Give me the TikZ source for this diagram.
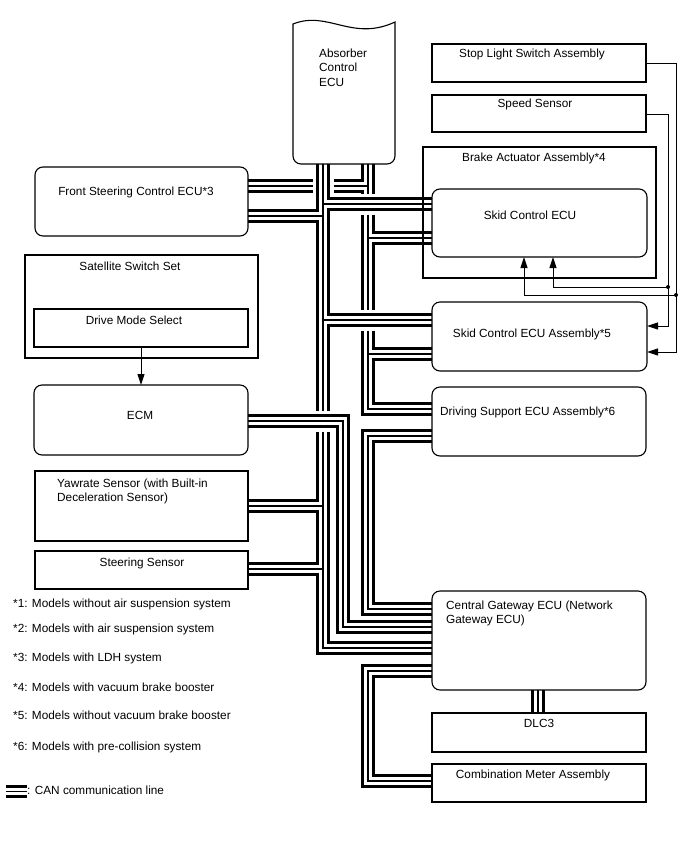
\documentclass[tikz,border=0pt]{standalone}
\usepackage{fontspec}
\setmainfont{Liberation Sans}
\usetikzlibrary{arrows.meta,backgrounds}
\newcommand\myfs{\fontsize{11.8}{14.5}\selectfont}
\newcommand\buspaths[1]{%
  % bus 1 (x=323)
  \draw[#1] (abs.south -| 323,0) -- (323,410.5);
  \draw[#1] (323,431.5) -- (323,648) -- (cgw.west |- 0,648);
  \draw[#1] (323,204) -- (skid.west |- 0,204);
  \draw[#1] (323,216) -- (fsc.east |- 0,216);
  \draw[#1] (323,320) -- (skida.west |- 0,320);
  \draw[#1] (323,506) -- (yaw.east |- 0,506);
  \draw[#1] (323,569) -- (steer.east |- 0,569);
  % bus A (x=368)
  \draw[#1] (abs.south -| 368,0) -- (368,193.5);
  \draw[#1] (368,214.5) -- (368,309.5);
  \draw[#1] (368,330.5) -- (368,409) -- (ds.west |- 0,409);
  \draw[#1] (368,186) -- (333.5,186);
  \draw[#1] (312.5,186) -- (fsc.east |- 0,186);
  \draw[#1] (368,238) -- (skid.west |- 0,238);
  \draw[#1] (368,354) -- (skida.west |- 0,354);
  % ECM bus
  \draw[#1] (ecm.east |- 0,421) -- (343,421) -- (343,627) -- (cgw.west |- 0,627);
  % driving support to gateway
  \draw[#1] (ds.west |- 0,436) -- (368,436) -- (368,609) -- (cgw.west |- 0,609);
  % gateway to combination meter
  \draw[#1] (cgw.west |- 0,671) -- (368,671) -- (368,781) -- (comb.west |- 0,781);
  % gateway to DLC3
  \draw[#1] (cgw.south -| 538,0) -- (dlc.north -| 538,0);
  % legend
  \draw[#1] (lg1) -- (lg2);
}
\begin{document}
\begin{tikzpicture}[x=1pt,y=-1pt,
  box/.style={draw,line width=1.1pt,anchor=north west,inner sep=0pt,outer sep=0pt},
  rbox/.style={box,rounded corners=8pt},
  lbl/.style={font=\myfs,inner sep=0pt,anchor=base},
  lbll/.style={font=\myfs,inner sep=0pt,anchor=north west,align=left},
  note/.style={font=\myfs,inner sep=0pt,anchor=base west},
  wire/.style={line width=1pt},
  tip/.style={-{Triangle[length=11pt,width=7pt]}},
  dotn/.style={circle,fill,inner sep=0pt,minimum size=4pt}
]
\useasboundingbox (0,0) rectangle (688,852);

% absorber control ECU (anchor node + outline)
\node[inner sep=0pt,outer sep=0pt,minimum width=102pt,minimum height=142pt,anchor=north west] (abs) at (293,22) {};
\draw[line width=1.1pt] (293,24) .. controls (328,10) and (352,42) .. (395,22)
  [rounded corners=8pt] -- (395,164) -- (293,164) -- (293,60) [sharp corners] -- cycle;
\node[lbll] (absT) at (319,48.4) {Absorber\\Control\\ECU};

% right column
\node[box,minimum width=214pt,minimum height=38pt] (sls) at (432,44) {};
\node[lbl] (slsT) at (532,57) {Stop Light Switch Assembly};
\node[box,minimum width=214pt,minimum height=37pt] (spd) at (432,95) {};
\node[lbl] (spdT) at (535,107) {Speed Sensor};
\node[box,minimum width=233pt,minimum height=131pt] (brk) at (423,147) {};
\node[lbl] (brkT) at (534,161) {Brake Actuator Assembly*4};
\node[rbox,minimum width=215pt,minimum height=68pt] (skid) at (432,189) {};
\node[lbl] (skidT) at (530,219.5) {Skid Control ECU};
\node[rbox,minimum width=215pt,minimum height=69pt] (skida) at (432,302) {};
\node[lbl] (skidaT) at (532,337) {Skid Control ECU Assembly*5};
\node[rbox,minimum width=214pt,minimum height=69pt] (ds) at (432,387) {};
\node[note] (dsT) at (440,415) {Driving Support ECU Assembly*6};
\node[rbox,minimum width=214pt,minimum height=99pt] (cgw) at (432,591) {};
\node[lbll] (cgwT) at (446,600.4) {Central Gateway ECU (Network\\Gateway ECU)};
\node[box,minimum width=214pt,minimum height=39pt] (dlc) at (432,713) {};
\node[lbl] (dlcT) at (539,727.5) {DLC3};
\node[box,minimum width=214pt,minimum height=38pt] (comb) at (432,764) {};
\node[lbl] (combT) at (533,778) {Combination Meter Assembly};

% left column
\node[rbox,minimum width=213pt,minimum height=69pt] (fsc) at (35,167) {};
\node[lbl] (fscT) at (136,195) {Front Steering Control ECU*3};
\node[box,minimum width=233pt,minimum height=103pt] (sss) at (25,255) {};
\node[lbl] (sssT) at (130,270) {Satellite Switch Set};
\node[box,minimum width=214pt,minimum height=38pt] (dms) at (34,309) {};
\node[lbl] (dmsT) at (134,324) {Drive Mode Select};
\node[rbox,minimum width=214pt,minimum height=70pt] (ecm) at (34,385) {};
\node[lbl] (ecmT) at (140,419) {ECM};
\node[box,minimum width=213pt,minimum height=70pt] (yaw) at (35,471) {};
\node[lbll] (yawT) at (57,478.4) {Yawrate Sensor (with Built-in\\Deceleration Sensor)};
\node[box,minimum width=213pt,minimum height=38pt] (steer) at (35,551) {};
\node[lbl] (steerT) at (142,566) {Steering Sensor};

% footnotes
\node[note] (n1) at (13,607) {*1: Models without air suspension system};
\node[note] (n2) at (13,632) {*2: Models with air suspension system};
\node[note] (n3) at (13,661) {*3: Models with LDH system};
\node[note] (n4) at (13,691) {*4: Models with vacuum brake booster};
\node[note] (n5) at (13,719) {*5: Models without vacuum brake booster};
\node[note] (n6) at (13,750) {*6: Models with pre-collision system};
\coordinate (lg1) at (6,791.5);
\coordinate (lg2) at (27,791.5);
\node[note] (lgT) at (27,794) {: CAN communication line};

% arrow drive mode select -> ECM
\draw[wire,tip] (dms.south) -- (dms.south |- ecm.north);

% stop light & speed sensor wiring
\node[dotn] (d1) at (676,295) {};
\node[dotn] (d2) at (668,287) {};
\draw[wire,tip] (sls.east |- 0,63) -- (676,63) -- (676,352) -- (skida.east |- 0,352);
\draw[wire,tip] (spd.east |- 0,114) -- (668,114) -- (668,326) -- (skida.east |- 0,326);
\draw[wire,tip] (d1.center) -- (524,295) -- (skid.south -| 524,0);
\draw[wire,tip] (d2.center) -- (553,287) -- (skid.south -| 553,0);

% CAN buses
\begin{scope}[on background layer,line cap=butt,line join=miter]
  \fill[white] (0,0) rectangle (688,852);
  \buspaths{line width=13.5pt}
  \buspaths{line width=7.5pt,white}
  \buspaths{line width=1.2pt}
\end{scope}
\end{tikzpicture}
\end{document}
